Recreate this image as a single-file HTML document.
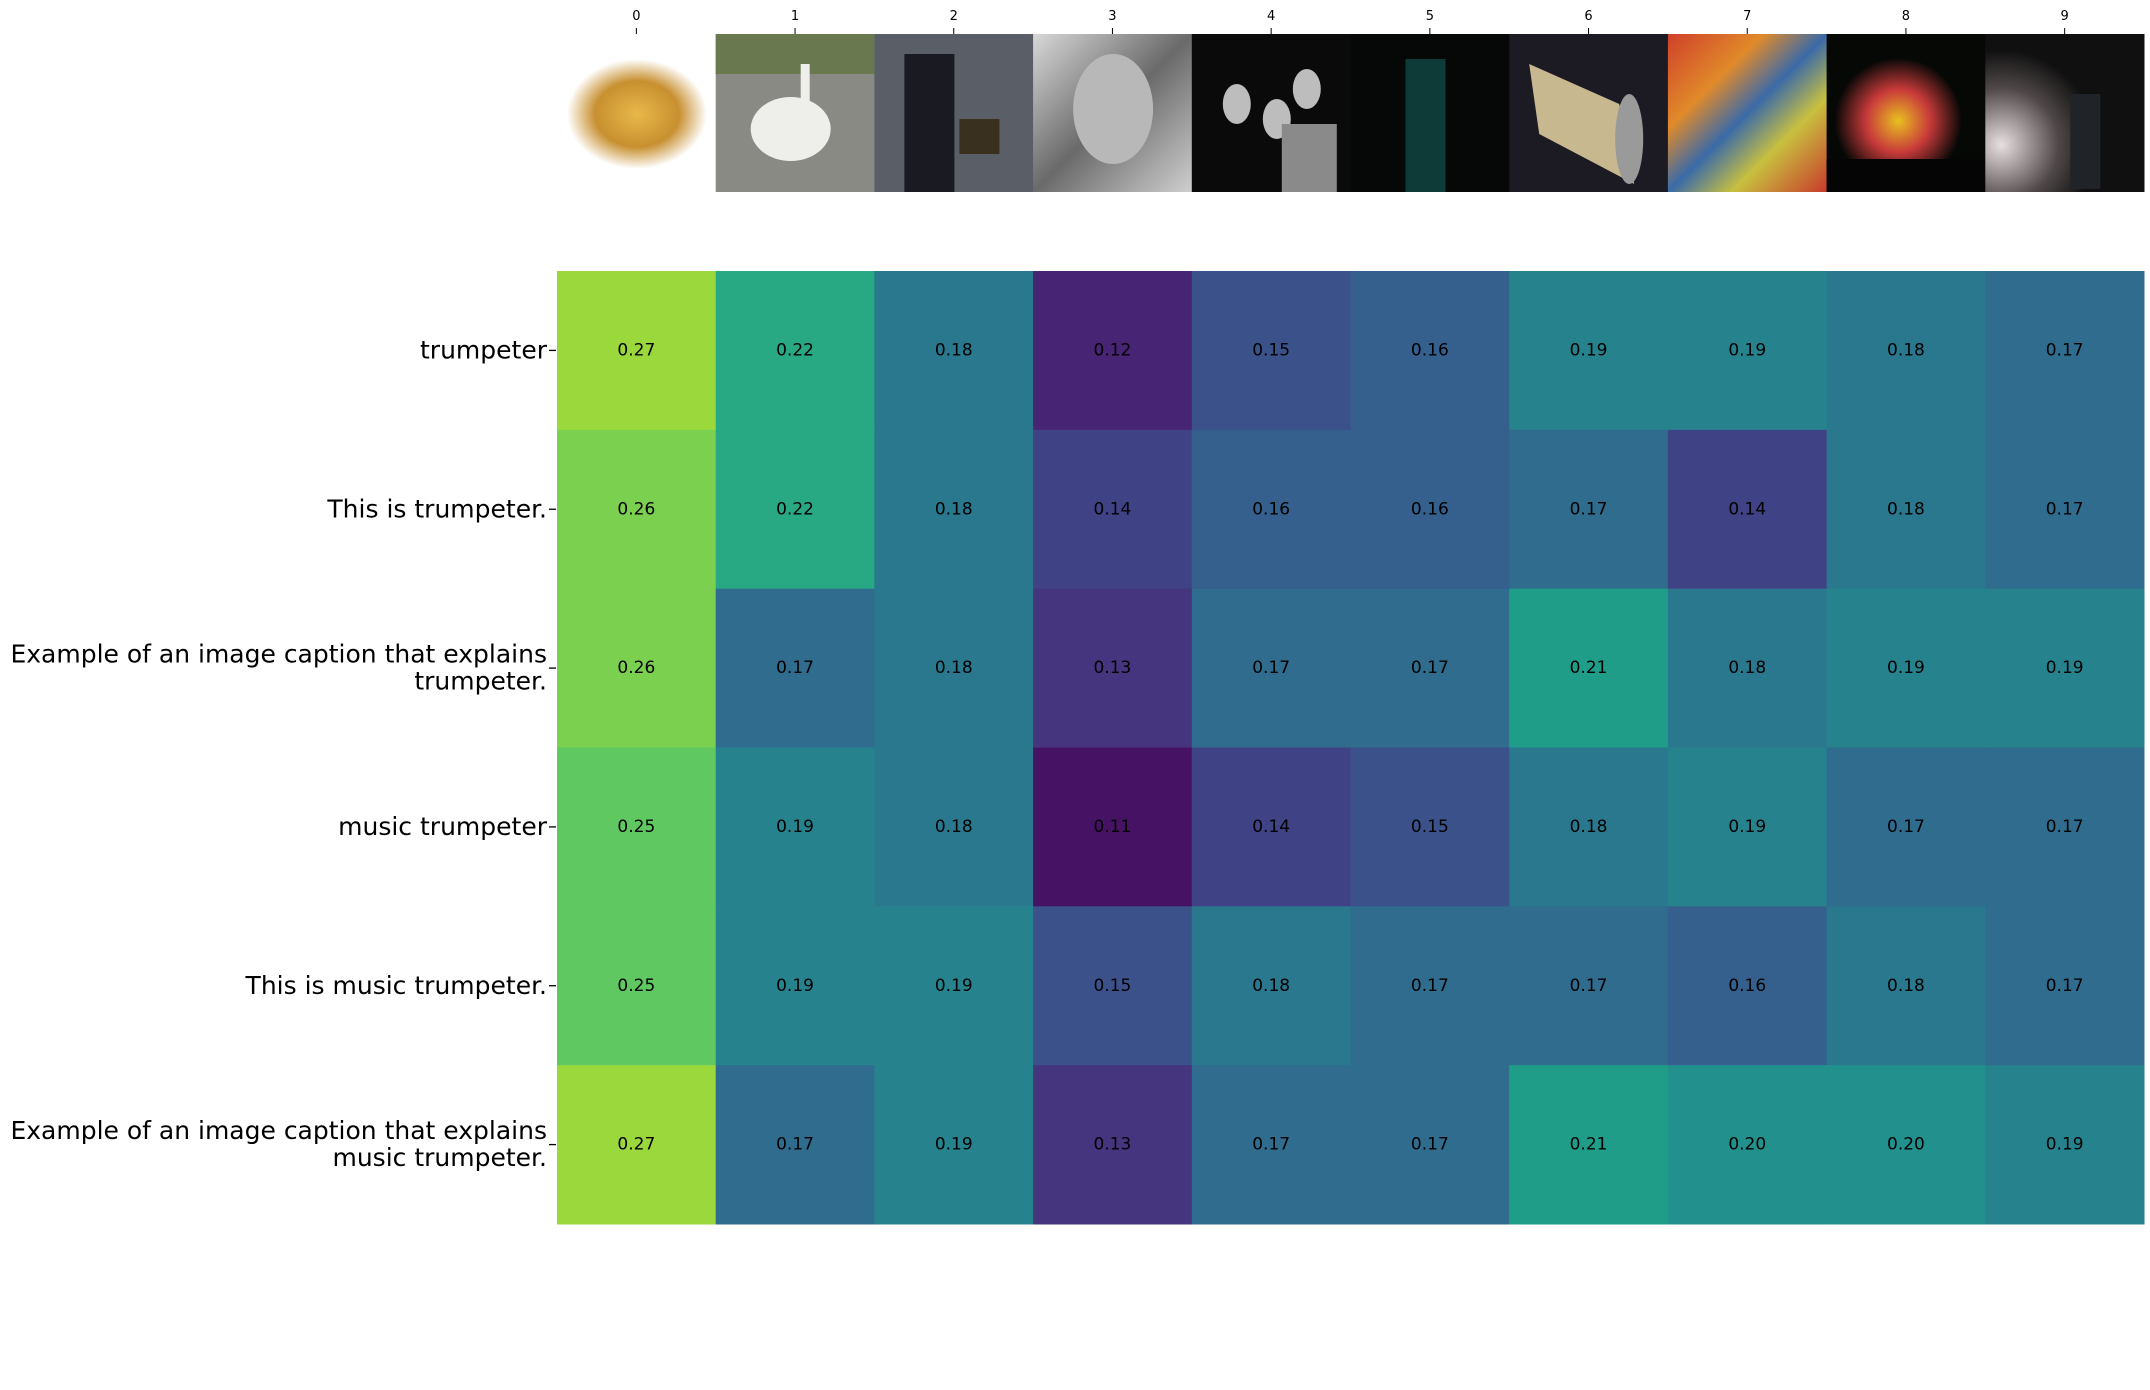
<!DOCTYPE html>
<html><head><meta charset="utf-8"><style>
body{margin:0;background:#fff;width:2150px;height:1390px;overflow:hidden}
svg{display:block;font-family:"DejaVu Sans","Liberation Sans",sans-serif}
</style></head><body>
<svg id="chart" width="2150" height="1390" viewBox="0 0 2150 1390" xmlns="http://www.w3.org/2000/svg">
<defs>
<radialGradient id="g0" cx="50%" cy="50%" r="50%"><stop offset="0" stop-color="#e8b84a"/><stop offset="0.6" stop-color="#c89030"/><stop offset="1" stop-color="#fff"/></radialGradient>
<linearGradient id="g3" x1="0" y1="0" x2="1" y2="1"><stop offset="0" stop-color="#d8d8d8"/><stop offset="0.5" stop-color="#6a6a6a"/><stop offset="1" stop-color="#cfcfcf"/></linearGradient>
<linearGradient id="g7" x1="0" y1="0" x2="1" y2="1"><stop offset="0" stop-color="#d0402a"/><stop offset="0.3" stop-color="#e08a2a"/><stop offset="0.5" stop-color="#3a6aa8"/><stop offset="0.7" stop-color="#c8c040"/><stop offset="1" stop-color="#c83a2a"/></linearGradient>
<radialGradient id="g8" cx="45%" cy="55%" r="40%"><stop offset="0" stop-color="#e8c020"/><stop offset="0.5" stop-color="#c83a3a"/><stop offset="1" stop-color="#060806"/></radialGradient>
<radialGradient id="g9" cx="10%" cy="70%" r="60%"><stop offset="0" stop-color="#e8e0e0"/><stop offset="0.6" stop-color="#504848"/><stop offset="1" stop-color="#101010"/></radialGradient>
</defs>
<g id="images"></g>
<g id="cells"></g>
<g id="ylabels"></g>
<g id="xlabels"></g>
</svg>
<script>
const categories = ["0","1","2","3","4","5","6","7","8","9"];
const rowLabels = [["trumpeter"],["This is trumpeter."],["Example of an image caption that explains","trumpeter."],["music trumpeter"],["This is music trumpeter."],["Example of an image caption that explains","music trumpeter."]];
const row0 = [0.27,0.22,0.18,0.12,0.15,0.16,0.19,0.19,0.18,0.17];
const row1 = [0.26,0.22,0.18,0.14,0.16,0.16,0.17,0.14,0.18,0.17];
const row2 = [0.26,0.17,0.18,0.13,0.17,0.17,0.21,0.18,0.19,0.19];
const row3 = [0.25,0.19,0.18,0.11,0.14,0.15,0.18,0.19,0.17,0.17];
const row4 = [0.25,0.19,0.19,0.15,0.18,0.17,0.17,0.16,0.18,0.17];
const row5 = [0.27,0.17,0.19,0.13,0.17,0.17,0.21,0.20,0.20,0.19];
const values = [row0,row1,row2,row3,row4,row5];
const vmin = 0.10, vmax = 0.30;

const viridis=[[68,1,84],[72,40,120],[62,73,137],[49,104,142],[38,130,142],[31,158,137],[53,183,121],[109,205,89],[180,222,44],[253,231,37]];
function cmap(v){let t=Math.max(0,Math.min(1,(v-vmin)/(vmax-vmin)))*(viridis.length-1);let i=Math.min(Math.floor(t),viridis.length-2),f=t-i;const a=viridis[i],b=viridis[i+1];return `rgb(${a.map((c,k)=>Math.round(c+(b[k]-c)*f)).join(',')})`;}
const X0=557,X1=2144,Y0=271,Y1=1224;
const cw=(X1-X0)/categories.length, rh=(Y1-Y0)/values.length;
const xs=j=>X0+j*cw, ys=i=>Y0+i*rh;
const NS="http://www.w3.org/2000/svg";
function mk(tag,attrs,parent,text){const e=document.createElementNS(NS,tag);for(const k in attrs)e.setAttribute(k,attrs[k]);if(text!==undefined)e.textContent=text;parent.appendChild(e);return e;}
const cells=document.getElementById('cells');
values.forEach((row,i)=>row.forEach((v,j)=>{
 const r=mk('rect',{x:xs(j),y:ys(i),width:cw+0.5,height:rh+0.5,fill:cmap(v)},cells);
 
 
 const t=mk('text',{x:xs(j)+cw/2,y:ys(i)+rh/2+5,'text-anchor':'middle','font-size':17,fill:'#000'},cells,v.toFixed(2));
 
 
}));
const yl=document.getElementById('ylabels');
rowLabels.forEach((lines,i)=>{
 const cy=ys(i)+rh/2;
 mk('line',{x1:549,x2:556,y1:cy,y2:cy,stroke:'#000','stroke-width':1.3},yl);
 const t=mk('text',{x:547,'text-anchor':'end','font-size':25,fill:'#000'},yl);
 
 
 const lh=27, start=cy+8-(lines.length-1)*lh/2;
 lines.forEach((s,k)=>mk('tspan',{x:547,y:start+k*lh},t,s));
});
const xl=document.getElementById('xlabels');
categories.forEach((c,j)=>{
 const cx=xs(j)+cw/2;
 mk('line',{x1:cx,x2:cx,y1:28,y2:34,stroke:'#000','stroke-width':1},xl);
 const t=mk('text',{x:cx,y:20,'text-anchor':'middle','font-size':13,fill:'#000'},xl,c);
 
 
});
const im=document.getElementById('images');
const IT=34,IH=158;
const bg=['#ffffff','#8a8a84','#5a5e66','url(#g3)','#0a0a0a','#050807','#1c1a22','url(#g7)','url(#g8)','url(#g9)'];
categories.forEach((c,j)=>{
 const g=mk('g',{},im);
 
 
 const x=xs(j);
 mk('rect',{x:x,y:IT,width:cw+0.5,height:IH,fill:bg[j]},g);
 if(j===0){mk('ellipse',{cx:x+80,cy:IT+80,rx:70,ry:55,fill:'url(#g0)'},g);}
 if(j===1){mk('rect',{x:x,y:IT,width:cw,height:40,fill:'#6a7850'},g);mk('ellipse',{cx:x+75,cy:IT+95,rx:40,ry:32,fill:'#eeeeea'},g);mk('rect',{x:x+85,y:IT+30,width:9,height:50,fill:'#eeeeea'},g);}
 if(j===2){mk('rect',{x:x+30,y:IT+20,width:50,height:138,fill:'#1a1a22'},g);mk('rect',{x:x+85,y:IT+85,width:40,height:35,fill:'#3a3020'},g);}
 if(j===3){mk('ellipse',{cx:x+80,cy:IT+75,rx:40,ry:55,fill:'#b8b8b8'},g);}
 if(j===4){[[45,70],[85,85],[115,55]].forEach(p=>mk('ellipse',{cx:x+p[0],cy:IT+p[1],rx:14,ry:20,fill:'#bdbdbd'},g));mk('rect',{x:x+90,y:IT+90,width:55,height:68,fill:'#8a8a8a'},g);}
 if(j===5){mk('rect',{x:x+55,y:IT+25,width:40,height:133,fill:'#0e3a38'},g);}
 if(j===6){mk('path',{d:`M${x+20} ${IT+30} L${x+110} ${IT+70} L${x+125} ${IT+150} L${x+30} ${IT+100} Z`,fill:'#c8b890'},g);mk('ellipse',{cx:x+120,cy:IT+105,rx:14,ry:45,fill:'#9a9a9a'},g);}
 if(j===8){mk('rect',{x:x,y:IT+125,width:cw,height:33,fill:'#050505'},g);}
 if(j===9){mk('rect',{x:x+85,y:IT+60,width:30,height:95,fill:'#202428'},g);}
});
</script>
</body></html>
